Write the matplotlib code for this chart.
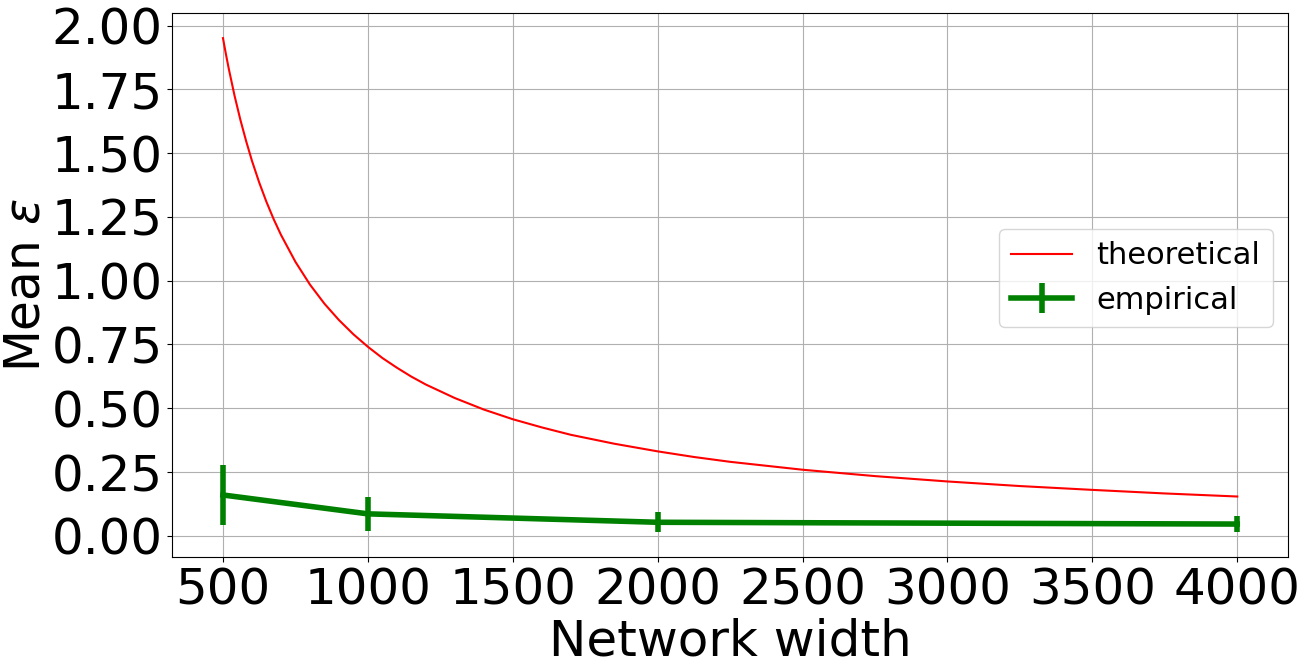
import numpy as np
from matplotlib import pyplot as plt

# theoretical curve
theory_width = [500, 510, 520, 540, 560, 580, 600, 625, 650, 675, 700, 750,
                800, 850, 900, 950, 1000, 1050, 1100, 1150, 1200, 1300, 1400,
                1500, 1600, 1700, 1850, 2000, 2125, 2250, 2500, 2750, 3000,
                3250, 3500, 3750, 4000]
theory_eps = [1.951, 1.889, 1.831, 1.725, 1.631, 1.547, 1.470, 1.385, 1.309,
              1.241, 1.180, 1.074, 0.985, 0.910, 0.846, 0.790, 0.741, 0.697,
              0.659, 0.624, 0.593, 0.540, 0.495, 0.457, 0.425, 0.396, 0.361,
              0.331, 0.309, 0.290, 0.259, 0.234, 0.213, 0.195, 0.180, 0.166,
              0.154]

# empirical measurements
emp_width = [500, 1000, 2000, 4000]
emp_eps = [0.160, 0.086, 0.053, 0.046]
emp_err = [0.116, 0.068, 0.039, 0.031]

fig = plt.figure(figsize=(13.08, 6.71), dpi=100)
ax = fig.add_subplot(111)
fig.subplots_adjust(left=0.1317, right=0.9847, top=0.980, bottom=0.170)

ax.plot(theory_width, theory_eps, color='red', linewidth=1.5, label='theoretical')
ax.errorbar(emp_width, emp_eps, yerr=emp_err, color='green', linewidth=4,
            elinewidth=4, label='empirical')

ax.set_xlabel('Network width', fontsize=36, labelpad=2)
ax.set_ylabel(r'Mean $\epsilon$', fontsize=35, labelpad=1)
ax.tick_params(axis='both', labelsize=36)
ax.set_xticks([500, 1000, 1500, 2000, 2500, 3000, 3500, 4000])
ax.set_yticks(np.arange(0, 2.01, 0.25))
ax.grid(True)
ax.legend(loc='center right', bbox_to_anchor=(1, 0.513), fontsize=22)

plt.savefig('out.png')
